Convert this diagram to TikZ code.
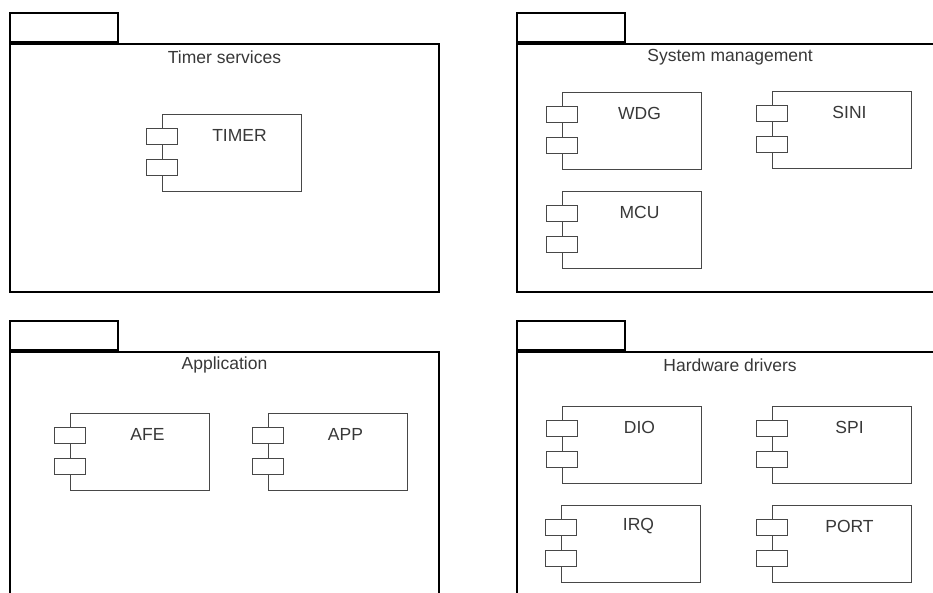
\documentclass[tikz,border=0pt]{standalone}
\usepackage{fontspec}
\setmainfont{Liberation Sans}
\begin{document}
\begin{tikzpicture}[x=1pt,y=-1pt,
  pkgline/.style={draw=black, line width=2pt},
  pkgbody/.style={pkgline, rectangle, inner sep=0pt, anchor=north west},
  pkgtab/.style={pkgline, rectangle, inner sep=0pt, anchor=south west, minimum width=108pt, minimum height=29pt},
  pkglabel/.style={text=black!78, font=\fontsize{17.5}{20}\selectfont, inner sep=0pt},
  compbox/.style={draw=black!72, line width=1.4pt, rectangle, inner sep=0pt, anchor=north west, minimum width=139pt, minimum height=77pt},
  portbox/.style={draw=black!72, line width=1.4pt, fill=white, rectangle, inner sep=0pt, anchor=north, minimum width=31pt, minimum height=16pt},
  complabel/.style={text=black!78, font=\fontsize{17.5}{20}\selectfont, inner sep=0pt}
]
\useasboundingbox (0,0) rectangle (933,592);
\clip (0,0) rectangle (933,592);
\fill[white] (0,0) rectangle (933,592);

\newcommand\mypkg[6]{%
  \node[pkgbody, minimum width=#4, minimum height=#5] (#1) at (#2,#3) {};
  \node[pkgtab] (#1tab) at (#1.north west) {};
  \node[pkglabel] (#1lab) at ([yshift=-14pt]#1.north) {#6};
}
\newcommand\mycomp[4]{%
  \node[compbox] (#1) at (#2,#3) {};
  \node[portbox] (#1pa) at ([yshift=-14pt]#1.north west) {};
  \node[portbox] (#1pb) at ([yshift=-45pt]#1.north west) {};
  \node[complabel] (#1lab) at ([xshift=77.5pt,yshift=-21pt]#1.north west) {#4};
}

\mypkg{ts}{9}{43}{429pt}{248pt}{Timer services}
\mypkg{sm}{516}{43}{426pt}{248pt}{System management}
\mypkg{ap}{9}{351}{429pt}{260pt}{Application}
\mypkg{hw}{516}{351}{426pt}{260pt}{Hardware drivers}

\mycomp{timer}{162}{114}{TIMER}
\mycomp{wdg}{562}{92}{WDG}
\mycomp{sini}{772}{91}{SINI}
\mycomp{mcu}{562}{191}{MCU}
\mycomp{afe}{70}{413}{AFE}
\mycomp{app}{268}{413}{APP}
\mycomp{dio}{562}{406}{DIO}
\mycomp{spi}{772}{406}{SPI}
\mycomp{irq}{561}{505}{IRQ}
\mycomp{port}{772}{505}{PORT}
\end{tikzpicture}
\end{document}
